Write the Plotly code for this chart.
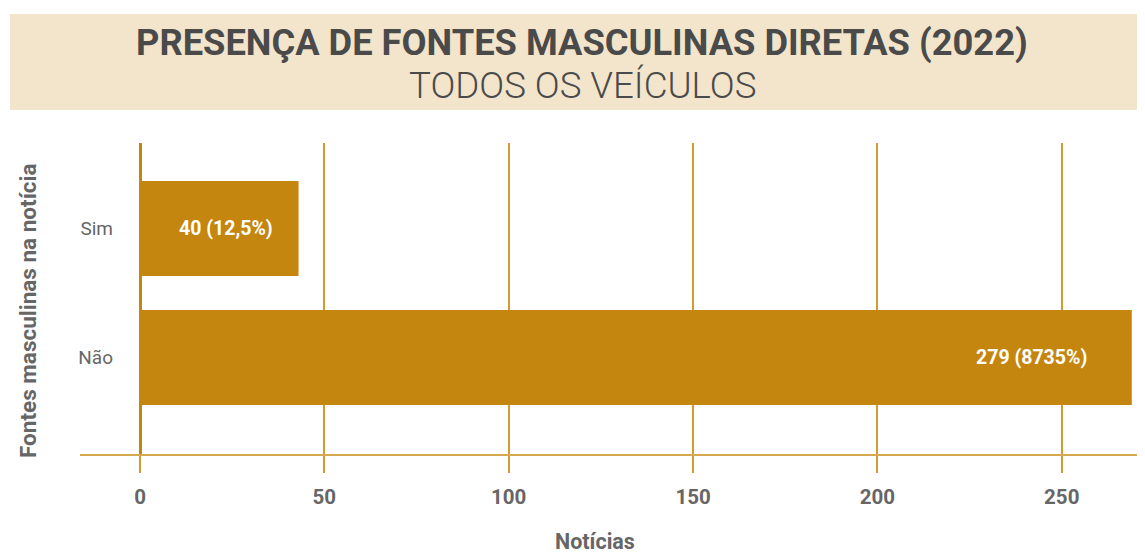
import plotly.graph_objects as go

# ---- data ----
categories = ["Não", "Sim"]
values = [269, 43]              # bar lengths as drawn in the reference
labels = ["279 (8735%)", "40 (12,5%)"]
tick_vals = [0, 50, 100, 150, 200, 250]
title_main = "PRESENÇA DE FONTES MASCULINAS DIRETAS (2022)"
title_sub = "TODOS OS VEÍCULOS"
x_title = "Notícias"
y_title = "Fontes masculinas na notícia"

BAR = "#C4860F"
GRID = "#D29A30"
TXT = "#666666"
TITLE_TXT = "#4A4A4A"
BG_TITLE = "#F2E5CB"

OFF = 8  # page body margin in the browser
W, H = 1145 - OFF, 556 - OFF
L, R, T, B = 138 - OFF, 0, 143 - OFF, 101
plot_w = W - L - R
plot_h = H - T - B
ppu = 3.687  # pixels per unit
x0 = -2 / ppu
x1 = x0 + plot_w / ppu

def px_x(p):
    # p: pixel x in the reference picture
    return (p - OFF - L) / plot_w

def px_y(p):
    return (H - B - (p - OFF)) / plot_h

fig = go.Figure(
    go.Bar(
        y=categories,
        x=values,
        orientation="h",
        marker=dict(color=BAR, line=dict(width=0)),
        width=0.736,
        hoverinfo="skip",
    )
)

label_shift = [-43, -24]
annotations = []
for c, v, t, s in zip(categories, values, labels, label_shift):
    annotations.append(dict(
        x=v, y=c, xref="x", yref="y", text=t, showarrow=False,
        xanchor="right", xshift=s,
        font=dict(family="Roboto", size=19.5, color="white", weight="bold"),
    ))

annotations += [
    dict(x=px_x(582), y=px_y(42), xref="paper", yref="paper", text=title_main,
         showarrow=False, xanchor="center", yanchor="middle",
         font=dict(family="Roboto", size=36.3, color=TITLE_TXT, weight="bold")),
    dict(x=px_x(582), y=px_y(85), xref="paper", yref="paper", text=title_sub,
         showarrow=False, xanchor="center", yanchor="middle",
         font=dict(family="Roboto", size=36.7, color=TITLE_TXT, weight=300)),
    dict(x=px_x(595), y=px_y(541), xref="paper", yref="paper", text=x_title,
         showarrow=False, xanchor="center", yanchor="middle",
         font=dict(family="Roboto", size=21.5, color=TXT, weight="bold")),
    dict(x=px_x(28), y=px_y(311), xref="paper", yref="paper", text=y_title,
         showarrow=False, xanchor="center", yanchor="middle", textangle=-90,
         font=dict(family="Roboto", size=22.5, color=TXT, weight="bold")),
]

shapes = [
    dict(type="rect", xref="paper", yref="paper",
         x0=px_x(10), x1=px_x(1145), y0=px_y(110), y1=px_y(14),
         fillcolor=BG_TITLE, line=dict(width=0), layer="below"),
    dict(type="line", xref="paper", yref="paper",
         x0=px_x(80), x1=1, y0=0, y1=0,
         line=dict(color="#D8A850", width=2), layer="above"),
]

fig.update_layout(
    width=W, height=H,
    margin=dict(l=L, r=R, t=T, b=B, pad=0),
    paper_bgcolor="white", plot_bgcolor="white",
    showlegend=False,
    annotations=annotations,
    shapes=shapes,
    font=dict(family="Roboto", color=TXT),
    xaxis=dict(
        range=[x0, x1], tickvals=tick_vals, showgrid=True,
        gridcolor=GRID, gridwidth=1.5,
        zeroline=True, zerolinecolor=BAR, zerolinewidth=2.5,
        ticks="outside", ticklen=17, tickcolor=GRID, tickwidth=1.5,
        ticklabelstandoff=6,
        tickfont=dict(family="Roboto", size=20.5, color=TXT, weight="bold"),
        showline=False, fixedrange=True,
    ),
    yaxis=dict(
        categoryorder="array", categoryarray=categories,
        range=[-0.756, 1.663], showgrid=False, zeroline=False,
        showline=False, ticks="", ticklabelstandoff=24,
        tickfont=dict(family="Roboto", size=19, color=TXT),
        fixedrange=True,
    ),
)

fig.write_html("out.html")
